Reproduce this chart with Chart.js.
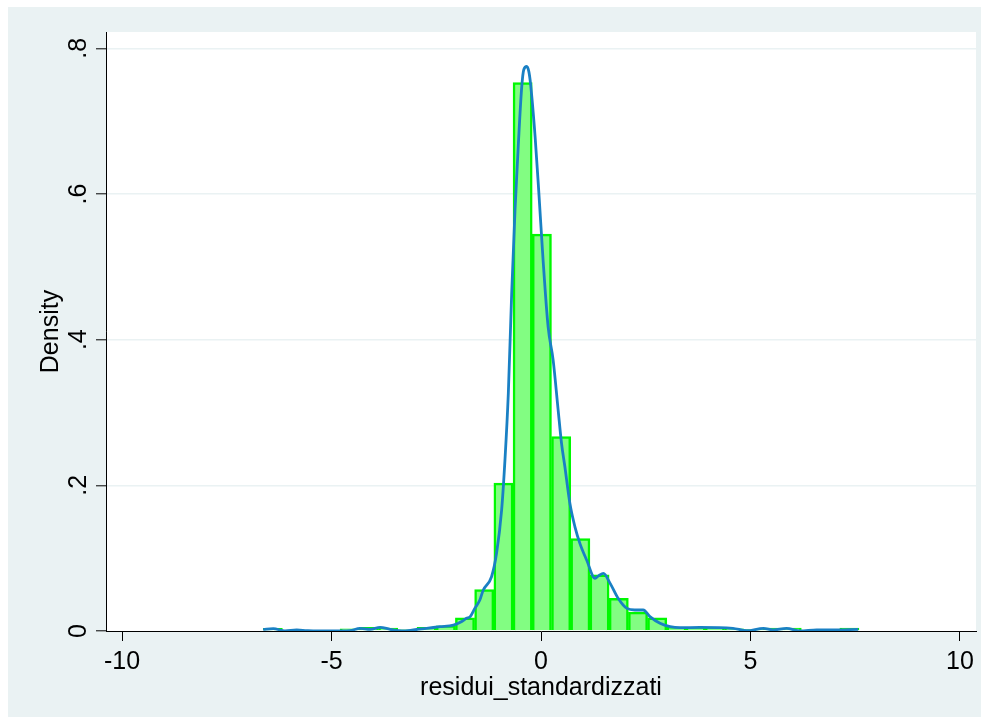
<!DOCTYPE html>
<html>
<head>
<meta charset="utf-8">
<script src="https://cdn.jsdelivr.net/npm/chart.js@4/dist/chart.umd.min.js"></script>
<style>
  html, body { margin: 0; padding: 0; background: #ffffff; }
  canvas { display: block; }
</style>
</head>
<body>
<canvas id="chart" width="990" height="725"></canvas>
<script>
// Histogram bins of the standardized residuals (bin centres, density)
const binCenters = [
  -6.401, -5.942, -5.483, -5.025, -4.566, -4.107, -3.648, -3.190, -2.731, -2.272,
  -1.814, -1.355, -0.896, -0.438, 0.021, 0.480, 0.939, 1.397, 1.856, 2.315,
  2.773, 3.232, 3.691, 4.149, 4.608, 5.067, 5.526, 5.984, 6.443, 6.902, 7.360
];
const binDensity = [
  0.0037, 0.0, 0.0, 0.0, 0.003, 0.005, 0.004, 0.0015, 0.005, 0.007,
  0.018, 0.057, 0.203, 0.753, 0.545, 0.267, 0.127, 0.077, 0.045, 0.026,
  0.018, 0.005, 0.004, 0.004, 0.003, 0.002, 0.004, 0.004, 0.0, 0.002, 0.004
];

// Kernel density estimate of the same residuals
const kdeX = [
  -6.63, -6.39, -6.11, -5.83, -5.59, -5.35, -4.96, -4.56, -4.32, -4.08,
  -3.84, -3.60, -3.32, -3.05, -2.73, -2.41, -2.09, -1.89, -1.78, -1.69,
  -1.58, -1.46, -1.38, -1.18, -1.06, -0.94, -0.86, -0.78, -0.70, -0.62,
  -0.54, -0.46, -0.41, -0.34, -0.29, -0.25, -0.14, -0.05, 0.05, 0.17,
  0.29, 0.41, 0.49, 0.57, 0.69, 0.81, 0.93, 1.09, 1.29, 1.38,
  1.49, 1.65, 1.84, 2.05, 2.24, 2.44, 2.60, 2.84, 3.08, 3.32,
  3.79, 4.58, 4.91, 5.31, 5.54, 5.86, 6.18, 6.58, 6.97, 7.57
];
const kdeY = [
  0.0023, 0.0032, 0.0002, 0.0014, 0.0005, 0.0, 0.0, 0.0005, 0.0037, 0.0023,
  0.005, 0.0023, 0.0, 0.0014, 0.0037, 0.0059, 0.0082, 0.013, 0.0174, 0.0197,
  0.031, 0.0425, 0.056, 0.0745, 0.107, 0.166, 0.235, 0.326, 0.463, 0.578,
  0.669, 0.747, 0.771, 0.775, 0.768, 0.7515, 0.678, 0.6006, 0.509, 0.4175,
  0.372, 0.303, 0.2576, 0.2255, 0.175, 0.143, 0.120, 0.0974, 0.0723, 0.076,
  0.079, 0.0654, 0.0449, 0.031, 0.0288, 0.0288, 0.0197, 0.0105, 0.0059, 0.0045,
  0.005, 0.0037, 0.0004, 0.0037, 0.0014, 0.0037, 0.0, 0.0014, 0.0014, 0.0023
];

// Axis ticks
const xTicks = [-10, -5, 0, 5, 10];
const yTicks = [0, 0.2, 0.4, 0.6, 0.8];
const yTickLabels = ['0', '.2', '.4', '.6', '.8'];

const FONT = '"Liberation Sans", Arial, Helvetica, sans-serif';
const REGION_BG = '#eaf2f3';

// Graph region background and white plot region
const backgroundPlugin = {
  id: 'regionBackground',
  beforeDraw(chart) {
    const { ctx, chartArea: a } = chart;
    ctx.save();
    ctx.fillStyle = '#ffffff';
    ctx.fillRect(0, 0, chart.width, chart.height);
    ctx.fillStyle = REGION_BG;
    ctx.fillRect(8, 7, 973, 710);
    ctx.fillStyle = '#ffffff';
    ctx.fillRect(a.left, a.top, a.right - a.left, a.bottom - a.top);
    ctx.restore();
  }
};

// Vertical (rotated) tick labels on the y axis
const yLabelPlugin = {
  id: 'rotatedYLabels',
  afterDraw(chart) {
    const { ctx } = chart;
    const y = chart.scales.y;
    ctx.save();
    ctx.fillStyle = '#000000';
    ctx.font = '25px ' + FONT;
    ctx.textAlign = 'center';
    ctx.textBaseline = 'alphabetic';
    yTicks.forEach((v, i) => {
      const py = y.getPixelForValue(v);
      ctx.save();
      ctx.translate(86, py);
      ctx.rotate(-Math.PI / 2);
      ctx.fillText(yTickLabels[i], 0, 0);
      ctx.restore();
    });
    ctx.restore();
  }
};

const ctx = document.getElementById('chart').getContext('2d');
new Chart(ctx, {
  data: {
    datasets: [
      {
        type: 'line',
        label: 'kdensity',
        data: kdeX.map((x, i) => ({ x, y: kdeY[i] })),
        borderColor: '#1a80c4',
        borderWidth: 2.8,
        pointRadius: 0,
        cubicInterpolationMode: 'monotone',
        fill: false,
        order: 0
      },
      {
        type: 'bar',
        label: 'Density',
        data: binCenters.map((x, i) => ({ x, y: binDensity[i] })),
        backgroundColor: '#82fd82',
        borderColor: '#00f800',
        borderWidth: 2.5,
        borderSkipped: 'start',
        barPercentage: 1,
        categoryPercentage: 1,
        order: 1
      }
    ]
  },
  options: {
    responsive: false,
    animation: false,
    devicePixelRatio: 1,
    layout: { padding: { top: 32, right: 14, left: 0, bottom: 0 } },
    plugins: {
      legend: { display: false },
      tooltip: { enabled: false }
    },
    scales: {
      x: {
        type: 'linear',
        offset: false,
        min: -10.382,
        max: 10.382,
        afterBuildTicks(scale) { scale.ticks = xTicks.map(v => ({ value: v })); },
        afterFit(scale) { scale.height = 94; },
        ticks: {
          color: '#000000',
          font: { family: FONT, size: 25, lineHeight: 1.2 },
          padding: 6,
          maxRotation: 0,
          autoSkip: false,
          callback: v => String(v)
        },
        grid: {
          offset: false,
          drawOnChartArea: false,
          drawTicks: true,
          tickLength: 10,
          tickColor: '#000000',
          tickWidth: 1
        },
        border: { display: true, color: '#000000', width: 1 },
        title: {
          display: true,
          text: 'residui_standardizzati',
          color: '#000000',
          font: { family: FONT, size: 25, lineHeight: 1.2 },
          padding: { top: 0, bottom: 22 }
        }
      },
      y: {
        type: 'linear',
        min: 0,
        max: 0.8224,
        afterBuildTicks(scale) { scale.ticks = yTicks.map(v => ({ value: v })); },
        afterFit(scale) { scale.width = 106; },
        ticks: { display: false },
        grid: {
          color: c => (c.tick && c.tick.value === 0) ? 'rgba(0,0,0,0)' : REGION_BG,
          lineWidth: 1.6,
          drawTicks: true,
          tickLength: 10,
          tickColor: '#000000',
          tickWidth: 1
        },
        border: { display: true, color: '#000000', width: 1 },
        title: {
          display: true,
          text: 'Density',
          color: '#000000',
          font: { family: FONT, size: 25, lineHeight: 1.2 },
          padding: { top: 36, bottom: 0 }
        }
      }
    }
  },
  plugins: [backgroundPlugin, yLabelPlugin]
});
</script>
</body>
</html>
